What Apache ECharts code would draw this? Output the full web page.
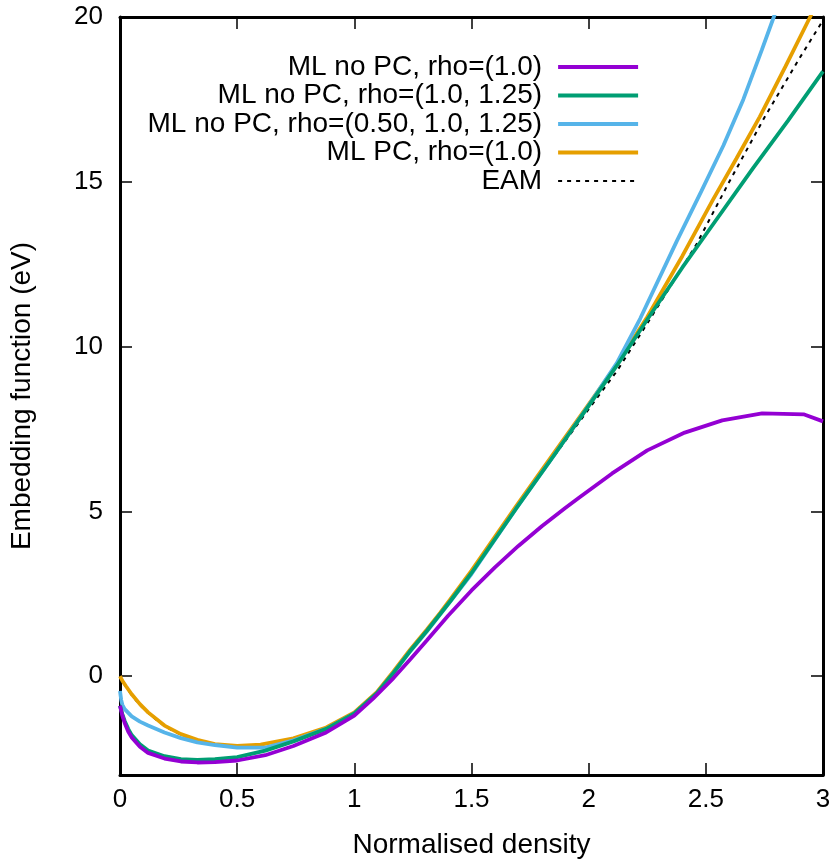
<!DOCTYPE html>
<html>
<head>
<meta charset="utf-8">
<script src="https://cdn.jsdelivr.net/npm/echarts@6/dist/echarts.min.js"></script>
<style>html,body{margin:0;padding:0;background:#fff}#c{width:838px;height:865px}</style>
</head>
<body>
<div id="c"></div>
<script>
// ---- data ----
const seriesNames = [
  'ML no PC, rho=(1.0)',
  'ML no PC, rho=(1.0, 1.25)',
  'ML no PC, rho=(0.50, 1.0, 1.25)',
  'ML PC, rho=(1.0)',
  'EAM'
];
const xTicks = [0, 0.5, 1, 1.5, 2, 2.5, 3];
const yTicks = [0, 5, 10, 15, 20];

const mlNoPc1 = [[0,-0.9],[0.01,-1.2],[0.02,-1.42],[0.035,-1.68],[0.05,-1.86],[0.085,-2.14],[0.12,-2.33],[0.19,-2.5],[0.26,-2.59],[0.33,-2.62],[0.405,-2.61],[0.5,-2.56],[0.62,-2.4],[0.74,-2.12],[0.88,-1.71],[1.0,-1.2],[1.08,-0.68],[1.167,-0.06],[1.24,0.52],[1.309,1.08],[1.4,1.83],[1.5,2.6],[1.6,3.3],[1.7,3.95],[1.8,4.55],[1.9,5.1],[1.96,5.42],[2.10,6.15],[2.25,6.85],[2.41,7.39],[2.57,7.76],[2.74,7.97],[2.92,7.94],[3.0,7.73]];

const mlNoPc2 = [[0,-0.9],[0.01,-1.15],[0.02,-1.36],[0.035,-1.6],[0.05,-1.79],[0.085,-2.07],[0.12,-2.26],[0.19,-2.43],[0.26,-2.52],[0.33,-2.54],[0.405,-2.52],[0.5,-2.46],[0.62,-2.26],[0.74,-1.98],[0.88,-1.6],[1.0,-1.13],[1.096,-0.52],[1.167,0.1],[1.238,0.76],[1.309,1.37],[1.41,2.28],[1.5,3.13],[1.69,5.08],[1.85,6.68],[2.0,8.2],[2.12,9.42],[2.25,10.82],[2.4,12.4],[2.5,13.4],[2.7,15.4],[2.85,16.85],[3.0,18.35]];

const mlNoPc3 = [[0,-0.45],[0.005,-0.72],[0.01,-0.87],[0.02,-1.0],[0.05,-1.22],[0.085,-1.38],[0.12,-1.5],[0.19,-1.71],[0.26,-1.88],[0.33,-2.01],[0.405,-2.09],[0.5,-2.17],[0.62,-2.17],[0.74,-1.95],[0.88,-1.6],[1.0,-1.13],[1.096,-0.53],[1.167,0.1],[1.238,0.75],[1.309,1.35],[1.41,2.27],[1.5,3.1],[1.69,5.08],[1.85,6.68],[2.0,8.22],[2.12,9.5],[2.22,10.85],[2.376,13.2],[2.48,14.7],[2.575,16.1],[2.66,17.5],[2.739,19.0],[2.79,20],[2.82,20.6]];

const mlPc1 = [[0,0],[0.01,-0.14],[0.025,-0.3],[0.05,-0.55],[0.085,-0.85],[0.12,-1.1],[0.19,-1.5],[0.26,-1.76],[0.33,-1.93],[0.405,-2.06],[0.5,-2.12],[0.6,-2.08],[0.74,-1.89],[0.88,-1.56],[1.0,-1.1],[1.096,-0.49],[1.167,0.14],[1.238,0.8],[1.309,1.41],[1.366,1.92],[1.41,2.34],[1.5,3.2],[1.69,5.15],[1.85,6.75],[2.0,8.25],[2.12,9.45],[2.25,10.9],[2.4,12.75],[2.53,14.45],[2.63,15.7],[2.73,16.97],[2.84,18.5],[2.945,20],[3.0,20.8]];

const eam = [[0,0],[0.01,-0.15],[0.025,-0.32],[0.05,-0.58],[0.085,-0.88],[0.12,-1.12],[0.19,-1.52],[0.26,-1.78],[0.33,-1.95],[0.405,-2.07],[0.5,-2.13],[0.6,-2.09],[0.74,-1.9],[0.88,-1.57],[1.0,-1.12],[1.096,-0.52],[1.167,0.12],[1.238,0.78],[1.309,1.38],[1.41,2.3],[1.5,3.13],[1.69,5.08],[1.85,6.65],[2.0,8.1],[2.12,9.25],[2.25,10.7],[2.46,13.1],[2.6,15.0],[2.75,16.95],[2.9,18.75],[3.0,19.9]];

const colors = ['#9400d3', '#009e73', '#56b4e9', '#e69f00', '#000000'];
const dataList = [mlNoPc1, mlNoPc2, mlNoPc3, mlPc1, eam];

// ---- chart ----
const FONT = 'Liberation Sans';
const FS = 26;   // tick labels
const FT = 28;   // titles & legend
const chart = echarts.init(document.getElementById('c'), null, {renderer: 'canvas'});

const tickStyle = {show: true, inside: true, length: 12, lineStyle: {color: '#000', width: 1.5}};
const lineAxis = {show: true, onZero: false, lineStyle: {color: '#000', width: 3}};

const styles = colors.map((c, i) => i === 4
  ? {color: c, width: 2, type: [4, 5]}
  : {color: c, width: 3.8});

const series = dataList.map((d, i) => ({
  name: seriesNames[i],
  type: 'line',
  data: d,
  showSymbol: false,
  symbol: 'none',
  smooth: false,
  clip: true,
  z: 10 - i,
  lineStyle: styles[i],
  itemStyle: {color: colors[i]}
}));

chart.setOption({
  animation: false,
  backgroundColor: '#fff',
  grid: {left: 120, right: 15, top: 17, bottom: 90, containLabel: false},
  legend: {
    orient: 'vertical',
    right: 193,
    top: 48,
    align: 'right',
    itemWidth: 80,
    itemHeight: 14,
    itemGap: 0.5,
    itemStyle: {opacity: 0},
    textStyle: {fontFamily: FONT, fontSize: FT, color: '#000', lineHeight: 28, padding: [0, 11, 0, 0]},
    data: seriesNames.map((n, i) => ({name: n, lineStyle: styles[i], itemStyle: {opacity: 0}}))
  },
  xAxis: [
    {
      type: 'value', min: 0, max: 3, interval: 0.5, position: 'bottom',
      name: 'Normalised density', nameLocation: 'middle', nameGap: 56,
      nameTextStyle: {fontFamily: FONT, fontSize: FT, color: '#000'},
      axisLine: lineAxis, splitLine: {show: false},
      axisLabel: {fontFamily: FONT, fontSize: FS, color: '#000', margin: 12,
        customValues: xTicks, formatter: v => String(v)},
      axisTick: Object.assign({}, tickStyle, {customValues: xTicks})
    },
    {
      type: 'value', min: 0, max: 3, interval: 0.5, position: 'top',
      axisLine: lineAxis, splitLine: {show: false},
      axisLabel: {show: false},
      axisTick: Object.assign({}, tickStyle, {customValues: xTicks})
    }
  ],
  yAxis: [
    {
      type: 'value', min: -3, max: 20, position: 'left',
      name: 'Embedding function (eV)', nameLocation: 'middle', nameGap: 84,
      nameTextStyle: {fontFamily: FONT, fontSize: FT, color: '#000'},
      axisLine: lineAxis, splitLine: {show: false},
      axisLabel: {fontFamily: FONT, fontSize: FS, color: '#000', margin: 17,
        customValues: yTicks, formatter: v => String(v)},
      axisTick: Object.assign({}, tickStyle, {customValues: yTicks})
    },
    {
      type: 'value', min: -3, max: 20, position: 'right',
      axisLine: lineAxis, splitLine: {show: false},
      axisLabel: {show: false},
      axisTick: Object.assign({}, tickStyle, {customValues: yTicks})
    }
  ],
  series: series
});
</script>
</body>
</html>
